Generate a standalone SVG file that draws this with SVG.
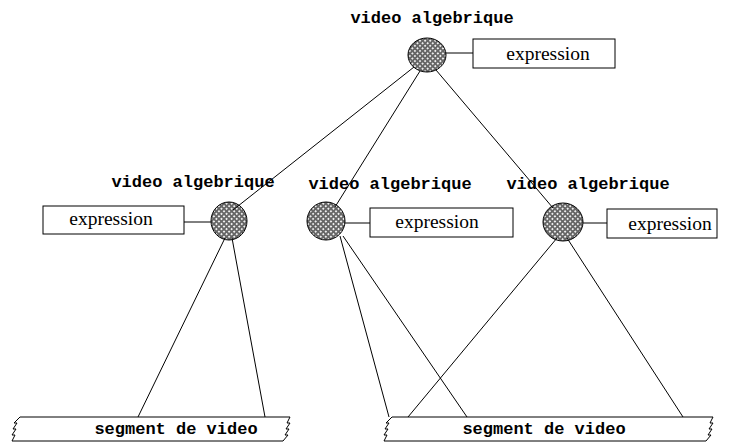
<svg xmlns="http://www.w3.org/2000/svg" width="738" height="443" viewBox="0 0 738 443">
<defs>
<pattern id="hatch" width="3.6" height="3.6" patternUnits="userSpaceOnUse" patternTransform="rotate(45)">
<rect width="3.6" height="3.6" fill="#666"/>
<rect x="0.9" y="0.9" width="1.8" height="1.8" fill="#eee"/>
</pattern>
</defs>
<style>
.node{fill:url(#hatch);stroke:#000;stroke-width:1}
.box{fill:#fff;stroke:#000;stroke-width:1}
.lbl{font-family:"Liberation Mono",monospace;font-weight:bold;font-size:17px;fill:#000}
.expr{font-family:"Liberation Serif",serif;font-size:19.5px;fill:#000}
.ln{stroke:#000;stroke-width:1;fill:none}
.seg{fill:#fff;stroke:#000;stroke-width:1}
</style>
<g id="segment-left">
<path class="seg" d="M20,417 L290,417 L287,423 L290,423 L286,429 L289,429 L285,435 L288,435 L283,441 L12,441 L15,435 L12,435 L16,429 L13,429 L17,423 L14,423 Z"/>
<text class="lbl" x="176" y="434" text-anchor="middle">segment de video</text>
</g>
<g id="segment-right">
<path class="seg" d="M392,417 L713,417 L710,423 L713,423 L709,429 L712,429 L708,435 L711,435 L706,441 L384,441 L387,435 L384,435 L388,429 L385,429 L389,423 L386,423 Z"/>
<text class="lbl" x="544" y="434" text-anchor="middle">segment de video</text>
</g>
<g id="node-top">
<text class="lbl" x="432" y="23" text-anchor="middle">video algebrique</text>
<ellipse class="node" cx="427" cy="55" rx="19" ry="17"/>
<rect class="box" x="473" y="39" width="142" height="29"/>
<text class="expr" x="548" y="60" text-anchor="middle">expression</text>
</g>
<g id="node-left">
<text class="lbl" x="193" y="187" text-anchor="middle">video algebrique</text>
<ellipse class="node" cx="229" cy="221" rx="18" ry="19"/>
<rect class="box" x="43" y="206" width="141" height="28"/>
<text class="expr" x="111" y="225" text-anchor="middle">expression</text>
</g>
<g id="node-middle">
<text class="lbl" x="390" y="189" text-anchor="middle">video algebrique</text>
<ellipse class="node" cx="326" cy="221" rx="19" ry="19"/>
<rect class="box" x="370" y="208" width="143" height="29"/>
<text class="expr" x="437" y="228" text-anchor="middle">expression</text>
</g>
<g id="node-right">
<text class="lbl" x="588" y="189" text-anchor="middle">video algebrique</text>
<ellipse class="node" cx="563" cy="222" rx="20" ry="19"/>
<rect class="box" x="607" y="209" width="110" height="29"/>
<text class="expr" x="670" y="230" text-anchor="middle">expression</text>
</g>
<g id="connectors">
<line class="ln" x1="446" y1="53" x2="473" y2="53"/>
<line class="ln" x1="184" y1="222" x2="211" y2="222"/>
<line class="ln" x1="345" y1="223" x2="370" y2="223"/>
<line class="ln" x1="583" y1="223" x2="607" y2="223"/>
<line class="ln" x1="414" y1="67" x2="233" y2="210"/>
<line class="ln" x1="420" y1="71" x2="335" y2="207"/>
<line class="ln" x1="436" y1="70" x2="553" y2="208"/>
<line class="ln" x1="225" y1="238" x2="138" y2="417"/>
<line class="ln" x1="232" y1="238" x2="265" y2="417"/>
<line class="ln" x1="340" y1="236" x2="389" y2="417"/>
<line class="ln" x1="343" y1="236" x2="467" y2="417"/>
<line class="ln" x1="557" y1="238" x2="408" y2="417"/>
<line class="ln" x1="567" y1="238" x2="683" y2="417"/>
</g>
</svg>
